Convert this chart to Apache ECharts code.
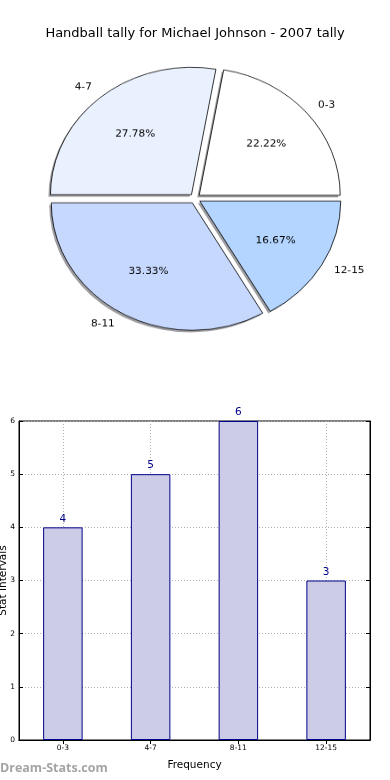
<!DOCTYPE html>
<html>
<head>
<meta charset="utf-8">
<script src="https://cdn.jsdelivr.net/npm/echarts@6/dist/echarts.min.js"></script>
<style>
html,body{margin:0;padding:0;background:#fff;}
#main{position:absolute;left:0;top:0;width:390px;height:780px;}
#pie{position:absolute;left:0;top:48px;width:390px;height:301px;transform:scaleY(0.904);transform-origin:50% 50%;}
</style>
</head>
<body>
<div id="main"></div>
<div id="pie"></div>
<script>
var titleText = 'Handball tally for Michael Johnson - 2007 tally';
var categories = ['0-3', '4-7', '8-11', '12-15'];
var counts = [4, 5, 6, 3];
var pieColors = ['#ffffff', '#eaf1fe', '#c6d8fe', '#b3d5ff'];
var yTicks = [0, 1, 2, 3, 4, 5, 6];
var xName = 'Frequency';
var yName = 'Stat Intervals';
var watermark = 'Dream-Stats.com';

var FONT = '"DejaVu Sans", sans-serif';

// ---------- main chart: title + bar chart ----------
var main = echarts.init(document.getElementById('main'), null, {renderer: 'canvas'});
var dotted = {show: true, lineStyle: {color: '#b0b0b0', type: [1, 2], width: 1}};
main.setOption({
  animation: false,
  backgroundColor: '#ffffff',
  title: {
    text: titleText, left: 'center', top: 22,
    textStyle: {fontFamily: FONT, fontSize: 13, fontWeight: 'normal', color: '#000'}
  },
  graphic: [{
    type: 'text', left: 0, top: 762,
    style: {text: watermark, fontFamily: '"Open Sans", sans-serif', fontSize: 12.5, fontWeight: 'bold', fill: '#a4a4a4'}
  }],
  grid: {left: 19, right: 20, top: 421, bottom: 40, containLabel: false, outerBoundsMode: 'none',
    show: true, borderColor: '#000', borderWidth: 1, backgroundColor: 'transparent'},
  xAxis: [{
    type: 'category', data: categories, position: 'bottom',
    name: xName, nameLocation: 'middle', nameGap: 20, nameMoveOverlap: false,
    nameTextStyle: {fontFamily: FONT, fontSize: 10.5, color: '#000'},
    axisLine: {show: true, lineStyle: {color: '#000'}},
    axisTick: {show: true, inside: true, alignWithLabel: true, length: 4, lineStyle: {color: '#000'}},
    axisLabel: {fontFamily: FONT, fontSize: 7.5, color: '#000', margin: 4},
    splitLine: Object.assign({alignWithLabel: true}, dotted)
  }, {
    type: 'category', data: categories, position: 'top',
    axisLine: {show: true, lineStyle: {color: '#000'}},
    axisTick: {show: true, inside: true, alignWithLabel: true, length: 4, lineStyle: {color: '#000'}},
    axisLabel: {show: false}, splitLine: {show: false}
  }],
  yAxis: [{
    type: 'value', min: yTicks[0], max: yTicks[yTicks.length - 1], interval: 1, position: 'left',
    name: yName, nameLocation: 'middle', nameGap: 10, nameMoveOverlap: false,
    nameTextStyle: {fontFamily: FONT, fontSize: 10.5, color: '#000'},
    axisLine: {show: true, lineStyle: {color: '#000'}},
    axisTick: {show: true, inside: true, length: 4, lineStyle: {color: '#000'}},
    axisLabel: {fontFamily: FONT, fontSize: 7.5, color: '#000', margin: 4},
    splitLine: dotted
  }, {
    type: 'value', min: yTicks[0], max: yTicks[yTicks.length - 1], interval: 1, position: 'right',
    axisLine: {show: true, lineStyle: {color: '#000'}},
    axisTick: {show: true, inside: true, length: 4, lineStyle: {color: '#000'}},
    axisLabel: {show: false}, splitLine: {show: false}
  }],
  series: [{
    type: 'bar', data: counts, barWidth: '45%',
    xAxisIndex: 0, yAxisIndex: 0,
    itemStyle: {color: '#ccccE6', borderColor: '#00008b', borderWidth: 1},
    label: {show: true, position: 'top', distance: 3, fontFamily: FONT, fontSize: 10.5, color: '#00008b'},
    emphasis: {disabled: true}
  }]
});

// ---------- pie chart (elliptical via css scale) ----------
var pie = echarts.init(document.getElementById('pie'), null, {renderer: 'canvas'});
var R = 141;
var OFF = 5.5;
var CX = 195, CY = 150.5;
var pieData = categories.map(function (c, i) {
  return {name: c, value: counts[i], selected: true, itemStyle: {color: pieColors[i]}};
});
var plainData = categories.map(function (c, i) {
  return {name: c, value: counts[i], selected: true};
});
var commonPie = {
  type: 'pie', startAngle: 0, clockwise: false,
  selectedMode: 'multiple', selectedOffset: OFF,
  avoidLabelOverlap: false, emphasis: {disabled: true}
};
pie.setOption({
  animation: false,
  series: [
    Object.assign({}, commonPie, {
      center: [CX - 2, CY + 2.2], radius: [0, R], silent: true, z: 1,
      data: plainData,
      itemStyle: {color: 'rgba(60,60,70,0.5)', borderWidth: 0},
      select: {itemStyle: {color: 'rgba(60,60,70,0.5)', borderWidth: 0}},
      label: {show: false}, labelLine: {show: false}
    }),
    Object.assign({}, commonPie, {
      center: [CX, CY], radius: [0, R], z: 2,
      data: pieData,
      itemStyle: {borderColor: '#000', borderWidth: 0.8},
      label: {show: true, position: 'outside', formatter: '{b}', fontFamily: FONT, fontSize: 10.5, color: '#000', distanceToLabelLine: 0},
      labelLine: {show: false, length: 14, length2: 0},
      select: {itemStyle: {borderColor: '#000', borderWidth: 0.8}}
    }),
    Object.assign({}, commonPie, {
      center: [CX, CY], radius: [0, R * 1.2], silent: true, z: 3,
      data: plainData,
      itemStyle: {color: 'rgba(0,0,0,0)', borderWidth: 0},
      label: {show: true, position: 'inside', formatter: '{d}%', fontFamily: FONT, fontSize: 10.5, color: '#000'},
      labelLine: {show: false},
      select: {itemStyle: {color: 'rgba(0,0,0,0)', borderWidth: 0}}
    })
  ]
});
</script>
</body>
</html>
